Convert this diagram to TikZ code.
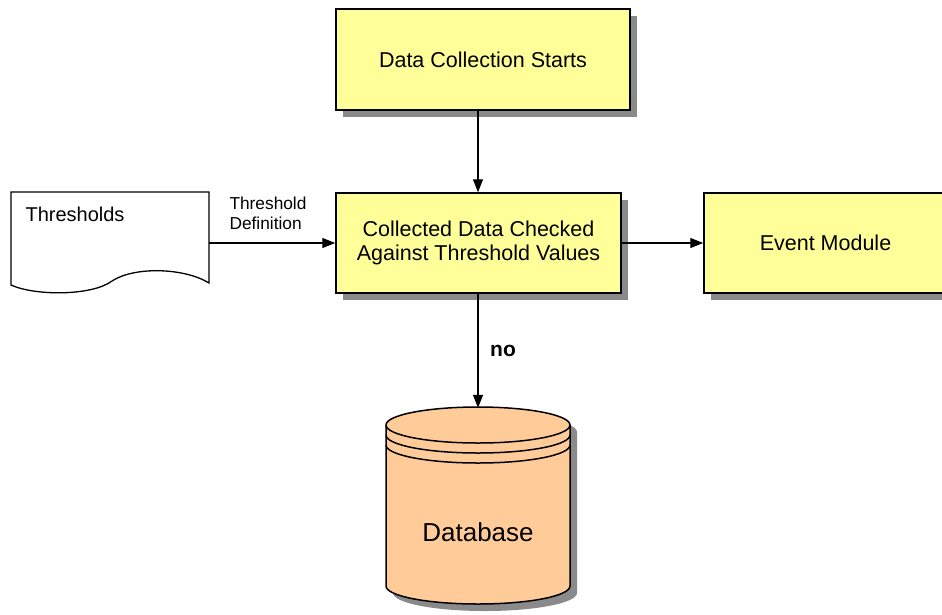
\documentclass[tikz,border=0pt]{standalone}
\usepackage{fontspec}
\setmainfont{Liberation Sans}
\usetikzlibrary{arrows.meta,shadows}
\definecolor{boxyellow}{HTML}{FFFF99}
\definecolor{dbpeach}{HTML}{FFCC99}
\definecolor{shadowgray}{HTML}{8A8A8A}
\begin{document}
\begin{tikzpicture}[x=1pt,y=-1pt,
  procbox/.style={draw=black,line width=1.5pt,fill=boxyellow,rectangle,inner sep=0pt,align=center,
    font=\fontsize{21.5}{24}\selectfont,
    drop shadow={shadow xshift=7pt,shadow yshift=-7pt,fill=shadowgray,opacity=1}},
  conn/.style={line width=1.3pt,-{Triangle[length=13pt,width=10pt]}},
  ghost/.style={rectangle,inner sep=0pt}
]
\clip (0,0) rectangle (942,614);
\fill[white] (0,0) rectangle (942,614);

% process boxes
\node[procbox,minimum width=294pt,minimum height=101pt] (start) at (483,59.5) {Data Collection Starts};
\node[procbox,minimum width=285pt,minimum height=100pt] (coll) at (478.5,243) {Collected Data Checked\\Against Threshold Values};
\node[procbox,minimum width=243pt,minimum height=100pt] (event) at (825.5,243) {Event Module};

% thresholds document
\node[ghost,minimum width=198pt,minimum height=102pt] (thr) at (110,243) {};
\draw[line width=1.3pt,fill=white] (11,192) -- (209,192) -- (209,283)
  .. controls (185,268) and (135,266) .. (112,281)
  .. controls (92,296) and (35,296) .. (11,285) -- cycle;
\node[anchor=west,font=\fontsize{20}{24}\selectfont] (thrtext) at (22,214) {Thresholds};

% database cylinder
\node[ghost,minimum width=184pt,minimum height=197pt] (db) at (478,506.5) {};
\fill[shadowgray] (393,432) -- (393,593) arc[start angle=180,end angle=360,x radius=92pt,y radius=18pt]
  -- (577,432) arc[start angle=0,end angle=180,x radius=92pt,y radius=18pt] -- cycle;
\draw[line width=1.5pt,fill=dbpeach] (386,425) -- (386,586) arc[start angle=180,end angle=360,x radius=92pt,y radius=18pt]
  -- (570,425) arc[start angle=0,end angle=180,x radius=92pt,y radius=18pt] -- cycle;
\draw[line width=1.5pt] (386,425) arc[start angle=180,end angle=360,x radius=92pt,y radius=18pt];
\draw[line width=1.5pt] (386,435) arc[start angle=180,end angle=360,x radius=92pt,y radius=18pt];
\draw[line width=1.5pt] (386,445) arc[start angle=180,end angle=360,x radius=92pt,y radius=18pt];
\node[font=\fontsize{26}{30}\selectfont] (dbtext) at (478,532) {Database};

% connectors
\draw[conn] (start.south -| 478,0) -- (coll.north -| 478,0);
\draw[conn] (thr.east) -- (coll.west);
\draw[conn] (coll.east) -- (event.west);
\draw[conn] (coll.south -| db.north) -- (db.north);

% labels
\node[anchor=west,align=left,font=\fontsize{17.3}{20}\selectfont] (thrdef) at (226,213) {Threshold\\Definition};
\node[font=\bfseries\fontsize{21}{24}\selectfont] (nolabel) at (503,351) {no};
\end{tikzpicture}
\end{document}
